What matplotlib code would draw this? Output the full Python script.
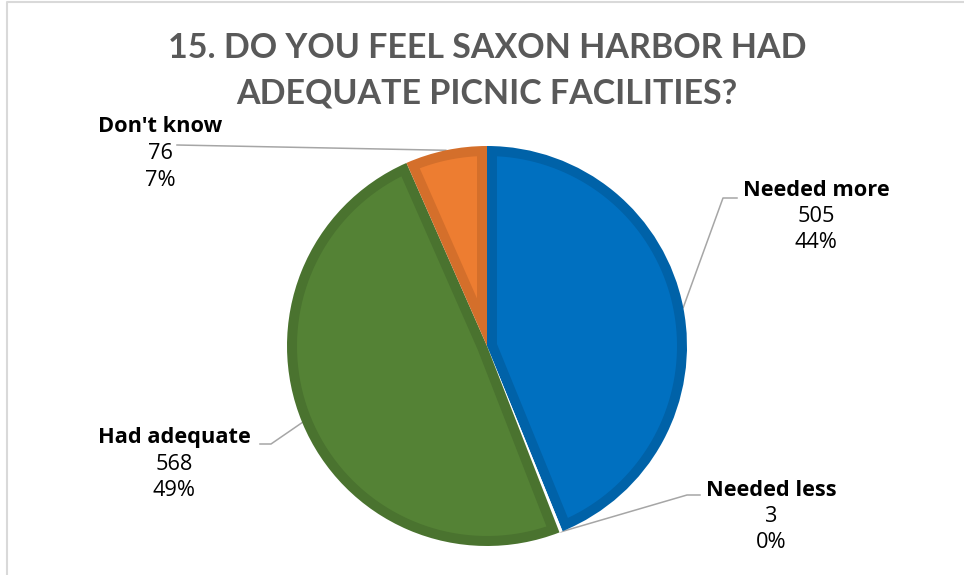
import numpy as np
import matplotlib.pyplot as plt
from matplotlib.patches import Polygon

labels = ["Needed more", "Needed less", "Had adequate", "Don't know"]
counts = [505, 3, 568, 76]
percents = ["44%", "0%", "49%", "7%"]
face_colors = ["#0070C0", "#FFFFFF", "#548235", "#ED7D31"]
band_colors = ["#0062A8", "#FFFFFF", "#4A732F", "#D46F2B"]
title_lines = ["15. DO YOU FEEL SAXON HARBOR HAD", "ADEQUATE PICNIC FACILITIES?"]

W, H = 964, 575
fig = plt.figure(figsize=(W / 100, H / 100), dpi=100)
ax = fig.add_axes([0, 0, 1, 1])


def py(y):
    # picture y (top-down) -> axes y
    return H - y


def inset_wedge(cx, cy, r, t1, t2, d):
    # wedge shrunk by d on every side (convex wedges only)
    span = np.deg2rad(t2 - t1)
    delta = np.arcsin(d / (r - d))
    if span <= 2 * delta or span >= np.pi:
        return None
    a = np.linspace(np.deg2rad(t1) + delta, np.deg2rad(t2) - delta, 80)
    pts = list(zip(cx + (r - d) * np.cos(a), cy + (r - d) * np.sin(a)))
    mid = np.deg2rad((t1 + t2) / 2)
    k = d / np.sin(span / 2)
    pts.append((cx + k * np.cos(mid), cy + k * np.sin(mid)))
    return pts


# chart frame
ax.plot([7, 7, W], [0, py(1.5), py(1.5)], color="#D9D9D9", lw=1.5)

cx, cy, r = 487, py(346), 200
wedges, _ = ax.pie(counts, startangle=90, counterclock=False,
                   center=(cx, cy), radius=r, colors=band_colors,
                   frame=True, wedgeprops=dict(linewidth=0))
for w, fc in zip(wedges, face_colors):
    pts = inset_wedge(cx, cy, r, w.theta1, w.theta2, 10)
    if pts is not None:
        ax.add_patch(Polygon(pts, closed=True, facecolor=fc, edgecolor="none"))

ax.set_xlim(0, W)
ax.set_ylim(0, H)
ax.axis("off")

# title
for i, line in enumerate(title_lines):
    ax.text(487, py(48 + 45 * i), line, ha="center", va="center",
            fontsize=24.5, fontweight="bold", color="#595959", family="Lato")

# label layout: (x centre, first line y, elbow points) in picture pixels
label_pos = {
    "Needed more": (816, 190, [(723, 198), (737, 198)]),
    "Needed less": (771, 490, [(687, 495), (700, 495)]),
    "Had adequate": (174, 438, [(271, 444), (260, 444)]),
    "Don't know": (160, 127, [(177, 145)]),
}

for w, lab, n, pct in zip(wedges, labels, counts, percents):
    lx, ly, elbow = label_pos[lab]
    mid = np.deg2rad((w.theta1 + w.theta2) / 2)
    ex, ey = cx + r * np.cos(mid), cy + r * np.sin(mid)
    xs = [ex] + [p[0] for p in elbow]
    ys = [ey] + [py(p[1]) for p in elbow]
    ax.plot(xs, ys, color="#A6A6A6", lw=1.1, zorder=0)
    ax.text(lx, py(ly), lab, ha="center", va="center", fontsize=15.7,
            fontweight="bold", color="black", family="Open Sans")
    ax.text(lx, py(ly + 26.5), str(n), ha="center", va="center",
            fontsize=15.7, color="black", family="Open Sans")
    ax.text(lx, py(ly + 53), pct, ha="center", va="center",
            fontsize=15.7, color="black", family="Open Sans")

fig.savefig("out.png", dpi=100)
